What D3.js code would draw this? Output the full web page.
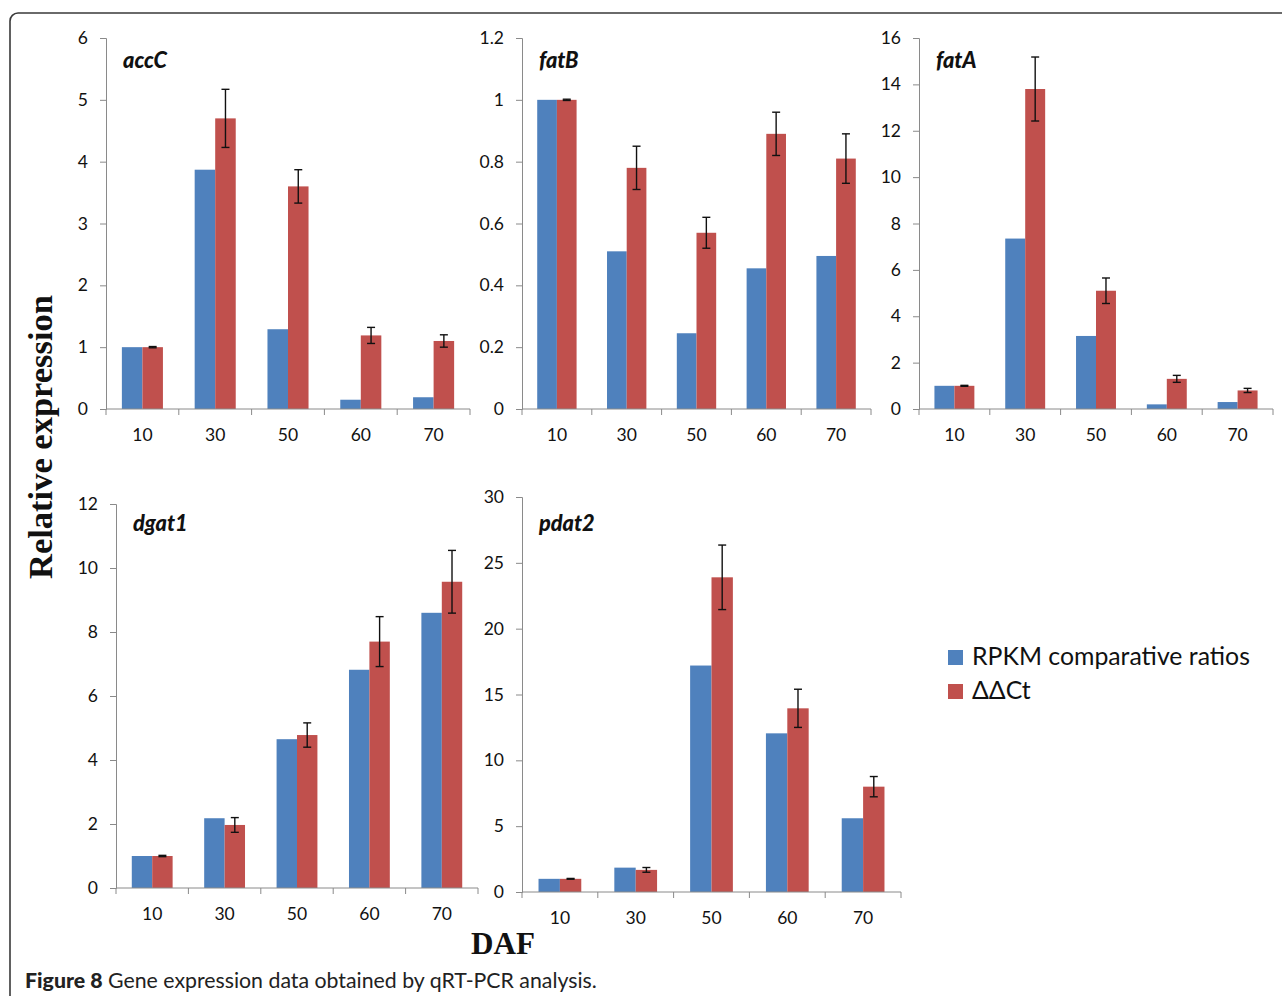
<!DOCTYPE html>
<html>
<head>
<meta charset="utf-8">
<script src="https://cdn.jsdelivr.net/npm/d3@7"></script>
<style>
  html, body { margin: 0; padding: 0; background: #fff; }
  svg { display: block; }
</style>
</head>
<body>
<svg id="chart" width="1282" height="996"></svg>
<script>
// ---------------- DATA ----------------
const categories = ["10", "30", "50", "60", "70"];
const seriesNames = ["RPKM comparative ratios", "\u0394\u0394Ct"];

const genes = ["accC", "fatB", "fatA", "dgat1", "pdat2"];

const rpkm_accC  = [1.0, 3.87, 1.29, 0.15, 0.19];
const ddct_accC  = [1.0, 4.70, 3.60, 1.19, 1.10];
const err_accC   = [0.01, 0.47, 0.27, 0.13, 0.10];

const rpkm_fatB  = [1.0, 0.51, 0.245, 0.455, 0.495];
const ddct_fatB  = [1.0, 0.78, 0.57, 0.89, 0.81];
const err_fatB   = [0.002, 0.07, 0.05, 0.07, 0.08];

const rpkm_fatA  = [1.0, 7.35, 3.15, 0.20, 0.30];
const ddct_fatA  = [1.0, 13.8, 5.10, 1.30, 0.80];
const err_fatA   = [0.02, 1.38, 0.55, 0.15, 0.09];

const rpkm_dgat1 = [1.0, 2.18, 4.65, 6.82, 8.60];
const ddct_dgat1 = [1.0, 1.97, 4.78, 7.70, 9.57];
const err_dgat1  = [0.02, 0.23, 0.38, 0.78, 0.98];

const rpkm_pdat2 = [1.0, 1.85, 17.2, 12.05, 5.60];
const ddct_pdat2 = [1.0, 1.68, 23.9, 13.95, 8.00];
const err_pdat2  = [0.03, 0.18, 2.45, 1.45, 0.77];

const yTicks_accC  = [0, 1, 2, 3, 4, 5, 6];
const yTicks_fatB  = [0, 0.2, 0.4, 0.6, 0.8, 1, 1.2];
const yTicks_fatA  = [0, 2, 4, 6, 8, 10, 12, 14, 16];
const yTicks_dgat1 = [0, 2, 4, 6, 8, 10, 12];
const yTicks_pdat2 = [0, 5, 10, 15, 20, 25, 30];

const yLabel = "Relative expression";
const xLabel = "DAF";
const captionBold = "Figure 8";
const captionText = " Gene expression data obtained by qRT-PCR analysis.";

// ---------------- LAYOUT ----------------
const colors = ["#4F81BD", "#C0504D"];
const axisColor = "#8a8a8a";
const tickFont = "Lato, 'Open Sans', sans-serif";

const panels = [
  { gene: genes[0], rpkm: rpkm_accC,  ddct: ddct_accC,  err: err_accC,  ticks: yTicks_accC,  left: 106, right: 470,  top: 38,  bottom: 409, labelY: 68 },
  { gene: genes[1], rpkm: rpkm_fatB,  ddct: ddct_fatB,  err: err_fatB,  ticks: yTicks_fatB,  left: 522, right: 871,  top: 38,  bottom: 409, labelY: 68 },
  { gene: genes[2], rpkm: rpkm_fatA,  ddct: ddct_fatA,  err: err_fatA,  ticks: yTicks_fatA,  left: 919, right: 1273, top: 38,  bottom: 409, labelY: 68 },
  { gene: genes[3], rpkm: rpkm_dgat1, ddct: ddct_dgat1, err: err_dgat1, ticks: yTicks_dgat1, left: 116, right: 478,  top: 504, bottom: 888, labelY: 531 },
  { gene: genes[4], rpkm: rpkm_pdat2, ddct: ddct_pdat2, err: err_pdat2, ticks: yTicks_pdat2, left: 522, right: 901,  top: 497, bottom: 892, labelY: 531 }
];

const svg = d3.select("#chart");

// frame with rounded top-left corner
svg.append("path")
  .attr("d", "M10,996 V21 A8,8 0 0 1 18,13 H1282")
  .attr("fill", "none")
  .attr("stroke", "#3a3a3a")
  .attr("stroke-width", 1.6);

function fitText(sel, target) {
  const fs = parseFloat(sel.attr("font-size"));
  const w = sel.node().getComputedTextLength();
  if (w > 0) sel.attr("font-size", (fs * target / w).toFixed(2));
}

let geneFontSize = null;

panels.forEach((p, pi) => {
  const g = svg.append("g");
  const ymax = p.ticks[p.ticks.length - 1];
  const y = d3.scaleLinear().domain([0, ymax]).range([p.bottom, p.top]);
  const x0 = d3.scaleBand().domain(categories).range([p.left, p.right]).padding(0);
  const bw = x0.bandwidth();
  const x1 = d3.scaleBand().domain([0, 1]).range([bw * 0.218, bw * 0.782]).padding(0);

  // y axis
  const yAxis = d3.axisLeft(y)
    .tickValues(p.ticks)
    .tickSize(6)
    .tickPadding(12)
    .tickFormat(d => d3.format("~g")(d));
  const ya = g.append("g").attr("transform", `translate(${p.left},0)`).call(yAxis);
  ya.select(".domain").attr("stroke", axisColor);
  ya.selectAll(".tick line").attr("stroke", axisColor);
  ya.selectAll(".tick text")
    .attr("font-family", tickFont)
    .attr("font-size", 17.5)
    .attr("fill", "#111");

  // bars
  const rows = categories.map((c, i) => ({ c, vals: [p.rpkm[i], p.ddct[i]], err: p.err[i] }));
  const grp = g.selectAll("g.cat").data(rows).join("g")
    .attr("class", "cat")
    .attr("transform", d => `translate(${x0(d.c)},0)`);
  grp.selectAll("rect").data(d => d.vals.map((v, k) => ({ v, k }))).join("rect")
    .attr("x", d => x1(d.k))
    .attr("width", x1.bandwidth())
    .attr("y", d => y(d.v))
    .attr("height", d => y(0) - y(d.v))
    .attr("fill", d => colors[d.k]);

  // error bars on ΔΔCt
  grp.each(function(d) {
    const cx = x1(1) + x1.bandwidth() / 2;
    const v = d.vals[1];
    const e = d3.select(this).append("g").attr("stroke", "#111").attr("stroke-width", 1.4);
    e.append("line").attr("x1", cx).attr("x2", cx).attr("y1", y(v + d.err)).attr("y2", y(v - d.err));
    e.append("line").attr("x1", cx - 4).attr("x2", cx + 4).attr("y1", y(v + d.err)).attr("y2", y(v + d.err));
    e.append("line").attr("x1", cx - 4).attr("x2", cx + 4).attr("y1", y(v - d.err)).attr("y2", y(v - d.err));
  });

  // x axis
  const xAxis = d3.axisBottom(x0).tickSize(0).tickPadding(0);
  const xa = g.append("g").attr("transform", `translate(0,${p.bottom})`).call(xAxis);
  xa.select(".domain").remove();
  xa.selectAll(".tick text")
    .attr("font-family", tickFont)
    .attr("font-size", 17.5)
    .attr("fill", "#111")
    .attr("dy", null)
    .attr("y", 32);
  g.append("line")
    .attr("x1", p.left).attr("x2", p.right)
    .attr("y1", p.bottom).attr("y2", p.bottom)
    .attr("stroke", axisColor);
  const bounds = categories.map(c => x0(c)).concat([p.right]);
  g.selectAll("line.xt").data(bounds).join("line")
    .attr("class", "xt")
    .attr("x1", d => d).attr("x2", d => d)
    .attr("y1", p.bottom).attr("y2", p.bottom + 6)
    .attr("stroke", axisColor);

  // gene label
  const gl = g.append("text")
    .attr("x", p.left + 17)
    .attr("y", p.labelY)
    .attr("font-family", tickFont)
    .attr("font-weight", 900)
    .attr("font-style", "italic")
    .attr("font-size", 20)
    .attr("fill", "#111")
    .text(p.gene);
  if (pi === 0) { fitText(gl, 44); geneFontSize = gl.attr("font-size"); }
  else gl.attr("font-size", geneFontSize);
});

// legend
const leg = svg.append("g");
seriesNames.forEach((name, i) => {
  const yy = 650 + i * 34;
  leg.append("rect").attr("x", 948).attr("y", yy).attr("width", 15).attr("height", 15).attr("fill", colors[i]);
  const t = leg.append("text")
    .attr("x", 972).attr("y", yy + 15)
    .attr("font-family", tickFont)
    .attr("font-size", 22)
    .attr("fill", "#111")
    .text(name);
  if (i === 0) fitText(t, 278);
  else t.attr("font-size", leg.select("text").attr("font-size"));
});

// axis titles
const yl = svg.append("text")
  .attr("transform", "translate(52,437) rotate(-90)")
  .attr("text-anchor", "middle")
  .attr("font-family", "'Liberation Serif', 'Times New Roman', serif")
  .attr("font-weight", "bold")
  .attr("font-size", 31)
  .attr("fill", "#111")
  .text(yLabel);
fitText(yl, 284);

const xl = svg.append("text")
  .attr("x", 503).attr("y", 954)
  .attr("text-anchor", "middle")
  .attr("font-family", "'Liberation Serif', 'Times New Roman', serif")
  .attr("font-weight", "bold")
  .attr("font-size", 31)
  .attr("fill", "#111")
  .text(xLabel);
fitText(xl, 64);

// caption
const cap = svg.append("text")
  .attr("x", 25).attr("y", 988)
  .attr("font-family", tickFont)
  .attr("font-size", 19)
  .attr("fill", "#222");
cap.append("tspan").attr("font-weight", 900).text(captionBold);
cap.append("tspan").text(captionText);
fitText(cap, 572);
</script>
</body>
</html>
